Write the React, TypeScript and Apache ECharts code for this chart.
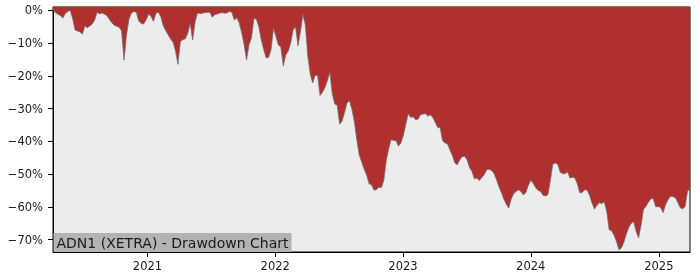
import React, { useEffect, useRef } from "react";
import * as echarts from "echarts";

// Weekly drawdown series (percent), first observation on startDate
const startDate = "2020-04-06";
const stepDays = 7;
const drawdown: number[] = [
  0, -0.7, -1.2, -1.6, -2.4, -1.0, -0.4, 0, -2.5, -6.0,
  -6.3, -6.6, -7.3, -4.8, -5.3, -4.8, -4.2, -3.0, -0.6, -1.1,
  -0.8, -1.2, -1.6, -2.8, -3.8, -4.6, -4.9, -5.2, -6.3, -15.2,
  -7.5, -2.8, -0.8, -0.4, -0.6, -3.3, -4.0, -4.2, -3.0, -1.2,
  -1.8, -3.4, -1.0, -0.5, -2.0, -4.7, -6.2, -7.5, -8.8, -9.8,
  -12.4, -16.5, -9.5, -9.0, -8.7, -7.0, -4.0, -9.1, -3.5, -0.8,
  -1.0, -0.9, -0.7, -0.7, -0.6, -2.1, -1.4, -1.1, -0.9, -0.7,
  -0.9, -0.8, -0.4, -0.6, -3.0, -2.3, -3.8, -6.8, -10.5, -15.2,
  -10.5, -8.5, -2.5, -2.7, -5.0, -9.0, -12.0, -14.5, -14.4, -12.0,
  -5.5, -8.0, -10.6, -11.2, -17.0, -13.6, -12.5, -10.0, -6.0, -5.0,
  -10.8, -6.5, -1.3, -4.5, -14.0, -19.5, -22.2, -19.8, -20.0, -26.0,
  -25.0, -23.6, -21.5, -19.0, -25.5, -28.6, -29.0, -34.8, -33.8, -31.2,
  -28.3, -27.6, -30.2, -34.0, -39.5, -44.2, -46.3, -48.5, -50.3, -53.0,
  -53.3, -54.9, -54.8, -54.0, -54.2, -52.0, -46.0, -42.3, -39.5, -39.7,
  -39.8, -41.5, -40.5, -38.2, -34.8, -31.6, -32.7, -32.5, -33.4, -33.3,
  -31.9, -31.7, -31.6, -32.3, -31.9, -32.7, -34.2, -35.8, -35.8, -39.8,
  -40.5, -40.8, -42.6, -44.3, -46.6, -47.2, -45.7, -44.7, -44.6, -45.6,
  -48.0, -49.2, -51.5, -51.2, -52.0, -51.1, -50.2, -48.7, -48.5, -48.9,
  -49.8, -51.7, -53.8, -55.6, -57.6, -59.2, -60.4, -57.7, -56.0, -55.3,
  -54.8, -55.3, -56.4, -55.6, -53.5, -51.9, -52.8, -54.2, -55.0, -55.3,
  -56.5, -56.7, -56.3, -52.0, -47.0, -46.6, -47.0, -49.4, -49.9, -49.9,
  -49.3, -51.2, -51.0, -51.2, -53.0, -55.7, -55.6, -54.8, -54.9, -56.5,
  -58.8, -60.7, -59.6, -58.8, -59.0, -58.5, -61.3, -67.0, -67.3, -68.7,
  -70.6, -73.1, -72.6, -70.8, -68.3, -66.3, -65.1, -64.5, -67.5, -69.5,
  -65.7, -60.8, -59.9, -58.6, -57.6, -57.5, -60.0, -59.9, -60.2, -61.8,
  -59.4, -57.9, -56.8, -56.9, -57.2, -58.6, -60.3, -60.6, -60.0, -55.1,
  -54.8,
];

const yTickValues = [0, -10, -20, -30, -40, -50, -60, -70];
const xTickYears = [2021, 2022, 2023, 2024, 2025];
const yMin = -73.8;
const yMax = 1.0;
const titleText = "ADN1 (XETRA) - Drawdown Chart";

const FONT = "DejaVu Sans";
const DAY = 86400000;

export default function App() {
  const ref = useRef<HTMLDivElement>(null);

  useEffect(() => {
    if (!ref.current) return;
    const chart = echarts.init(ref.current, undefined, { renderer: "svg" });
    const [sy, sm, sd] = startDate.split("-").map(Number);
    const t0 = Date.UTC(sy, sm - 1, sd);
    const data = drawdown.map((v, i) => [t0 + i * stepDays * DAY, v]);
    const tEnd = t0 + (drawdown.length - 1) * stepDays * DAY;
    const xTicks = xTickYears.map((y) => Date.UTC(y, 0, 1));

    chart.setOption({
      animation: false,
      textStyle: { fontFamily: FONT },
      grid: {
        left: 53,
        right: 10,
        top: 7,
        bottom: 28,
        show: true,
        backgroundColor: "#ececec",
        borderColor: "#000",
        borderWidth: 1,
        containLabel: false,
        outerBoundsMode: "none",
      },
      title: {
        text: titleText,
        left: 53.5,
        top: 233,
        backgroundColor: "#b3b3b3",
        padding: [2, 3, 2, 3],
        textStyle: {
          fontFamily: FONT,
          fontSize: 14,
          fontWeight: "normal",
          color: "#1a1a1a",
          lineHeight: 15,
        },
        z: 10,
      },
      xAxis: {
        type: "value",
        min: t0,
        max: tEnd,
        axisLine: { show: true, onZero: false, lineStyle: { color: "#000", width: 1 } },
        axisTick: {
          show: true,
          length: 5,
          lineStyle: { color: "#000", width: 1 },
          customValues: xTicks,
        },
        axisLabel: {
          show: true,
          customValues: xTicks,
          margin: 8,
          fontFamily: FONT,
          fontSize: 11.5,
          color: "#1a1a1a",
          formatter: (v: number) => String(new Date(v).getUTCFullYear()),
        },
        splitLine: { show: false },
      },
      yAxis: {
        type: "value",
        min: yMin,
        max: yMax,
        axisLine: { show: true, lineStyle: { color: "#000", width: 1 } },
        axisTick: {
          show: true,
          length: 5,
          lineStyle: { color: "#000", width: 1 },
          customValues: yTickValues,
        },
        axisLabel: {
          show: true,
          customValues: yTickValues,
          margin: 10,
          fontFamily: FONT,
          fontSize: 11.5,
          color: "#1a1a1a",
          formatter: (v: number) =>
            (v < 0 ? "\u2212" : "") + Math.abs(Math.round(v)) + "%",
        },
        splitLine: { show: false },
      },
      series: [
        {
          type: "line",
          data,
          symbol: "none",
          showSymbol: false,
          lineStyle: { color: "rgba(110,110,110,0.75)", width: 1 },
          areaStyle: { color: "#b03030", opacity: 1, origin: "end" },
          clip: true,
        },
      ],
    });

    return () => chart.dispose();
  }, []);

  return (
    <div
      ref={ref}
      style={{ position: "fixed", left: 0, top: 0, width: 700, height: 280 }}
    />
  );
}
